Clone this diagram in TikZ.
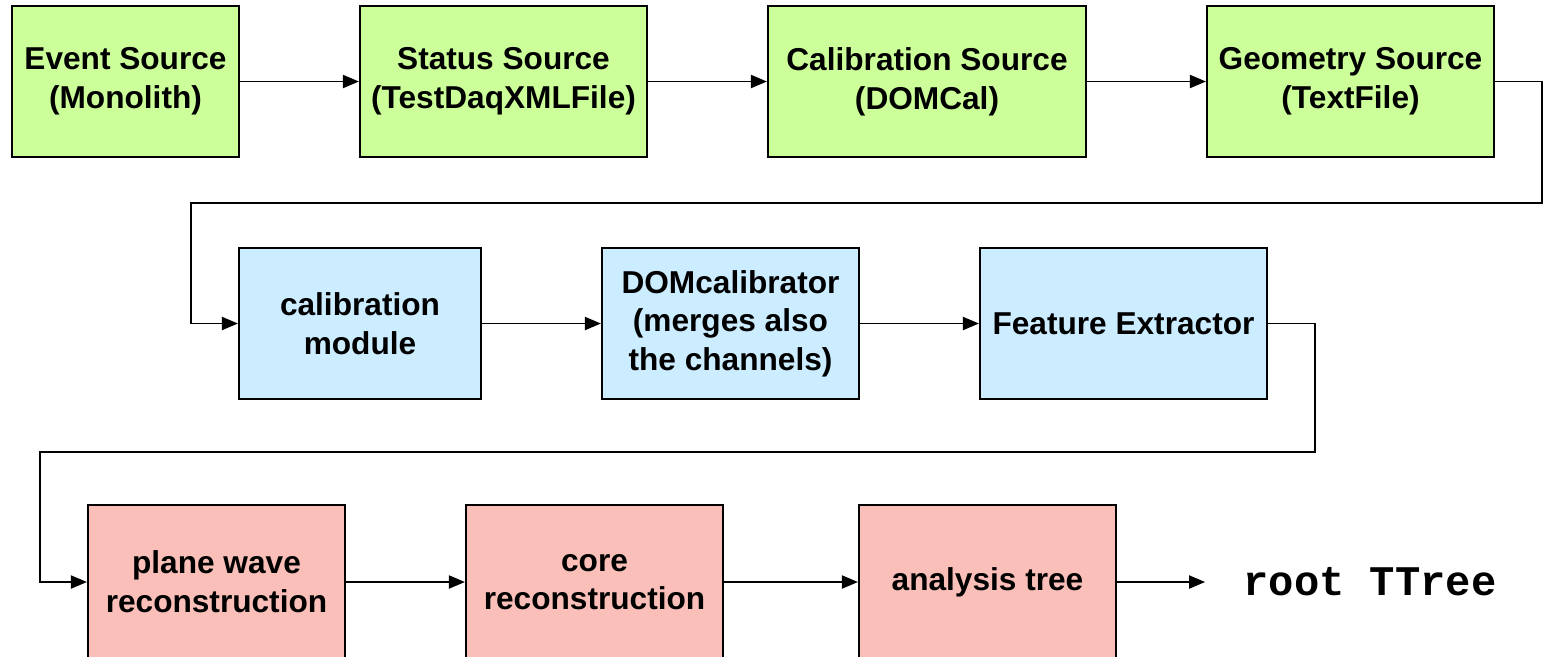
\documentclass[tikz,border=0pt]{standalone}
\usepackage{fontspec}
\setmainfont{Liberation Sans}
\newfontfamily\rootfont{Liberation Mono}
\usetikzlibrary{arrows.meta, positioning}

\definecolor{srcgreen}{HTML}{CCFF99}
\definecolor{modblue}{HTML}{CCECFF}
\definecolor{recopink}{HTML}{F9BFB8}

\begin{document}
\begin{tikzpicture}
        \tikzstyle{box} = [rectangle, draw, line width=1.2pt, text centered, align=center, minimum height=3.02cm, font=\fontsize{18}{22}\selectfont\bfseries]
        \tikzstyle{arrow} = [line width=1.1pt,-{Triangle[length=0.32cm,width=0.26cm]}]

        \useasboundingbox (0,0) rectangle (30.86,-13.12);

        % sources
        \node (event) [box, fill=srcgreen, minimum width=4.54cm] at (2.51,-1.63) {Event Source\\(Monolith)};
        \node (status) [box, fill=srcgreen, minimum width=5.74cm, right of=event, xshift=6.56cm] {Status Source\\(TestDaqXMLFile)};
        \node (calsrc) [box, fill=srcgreen, minimum width=6.36cm, right of=status, xshift=7.47cm] {Calibration Source\\(DOMCal)};
        \node (geosrc) [box, fill=srcgreen, minimum width=5.74cm, right of=calsrc, xshift=7.47cm] {Geometry Source\\(TextFile)};

        % modules
        \node (calmod) [box, fill=modblue, minimum width=4.84cm] at (7.2,-6.47) {calibration\\module};
        \node (domcal) [box, fill=modblue, minimum width=5.14cm, right of=calmod, xshift=6.41cm] {DOMcalibrator\\(merges also\\the channels)};
        \node (featx) [box, fill=modblue, minimum width=5.74cm, right of=domcal, xshift=6.86cm] {Feature Extractor};

        % reconstruction
        \node (plane) [box, fill=recopink, minimum width=5.14cm, minimum height=3.08cm] at (4.33,-11.64) {plane wave\\reconstruction};
        \node (core) [box, fill=recopink, minimum width=5.14cm, minimum height=3.08cm, right of=plane, xshift=6.56cm] {core\\reconstruction};
        \node (anal) [box, fill=recopink, minimum width=5.14cm, minimum height=3.08cm, right of=core, xshift=6.86cm] {analysis tree};
        \node (root) [inner xsep=0.76cm, right of=anal, xshift=6.65cm, font=\rootfont\fontsize{24}{28}\selectfont\bfseries] {root TTree};

        \coordinate (turnA) at (30.84,-4.06);
        \coordinate (turnB) at (3.82,-4.06);
        \coordinate (turnC) at (26.3,-9.04);
        \coordinate (turnD) at (0.8,-9.04);

        \draw [arrow] (event) -- (status);
        \draw [arrow] (status) -- (calsrc);
        \draw [arrow] (calsrc) -- (geosrc);
        \draw [arrow] (geosrc.east) -| (turnA) -- (turnB) |- (calmod.west);
        \draw [arrow] (calmod) -- (domcal);
        \draw [arrow] (domcal) -- (featx);
        \draw [arrow] (featx.east) -| (turnC) -- (turnD) |- (plane.west);
        \draw [arrow] (plane) -- (core);
        \draw [arrow] (core) -- (anal);
        \draw [arrow] (anal) -- (root);
    \end{tikzpicture}
\end{document}
